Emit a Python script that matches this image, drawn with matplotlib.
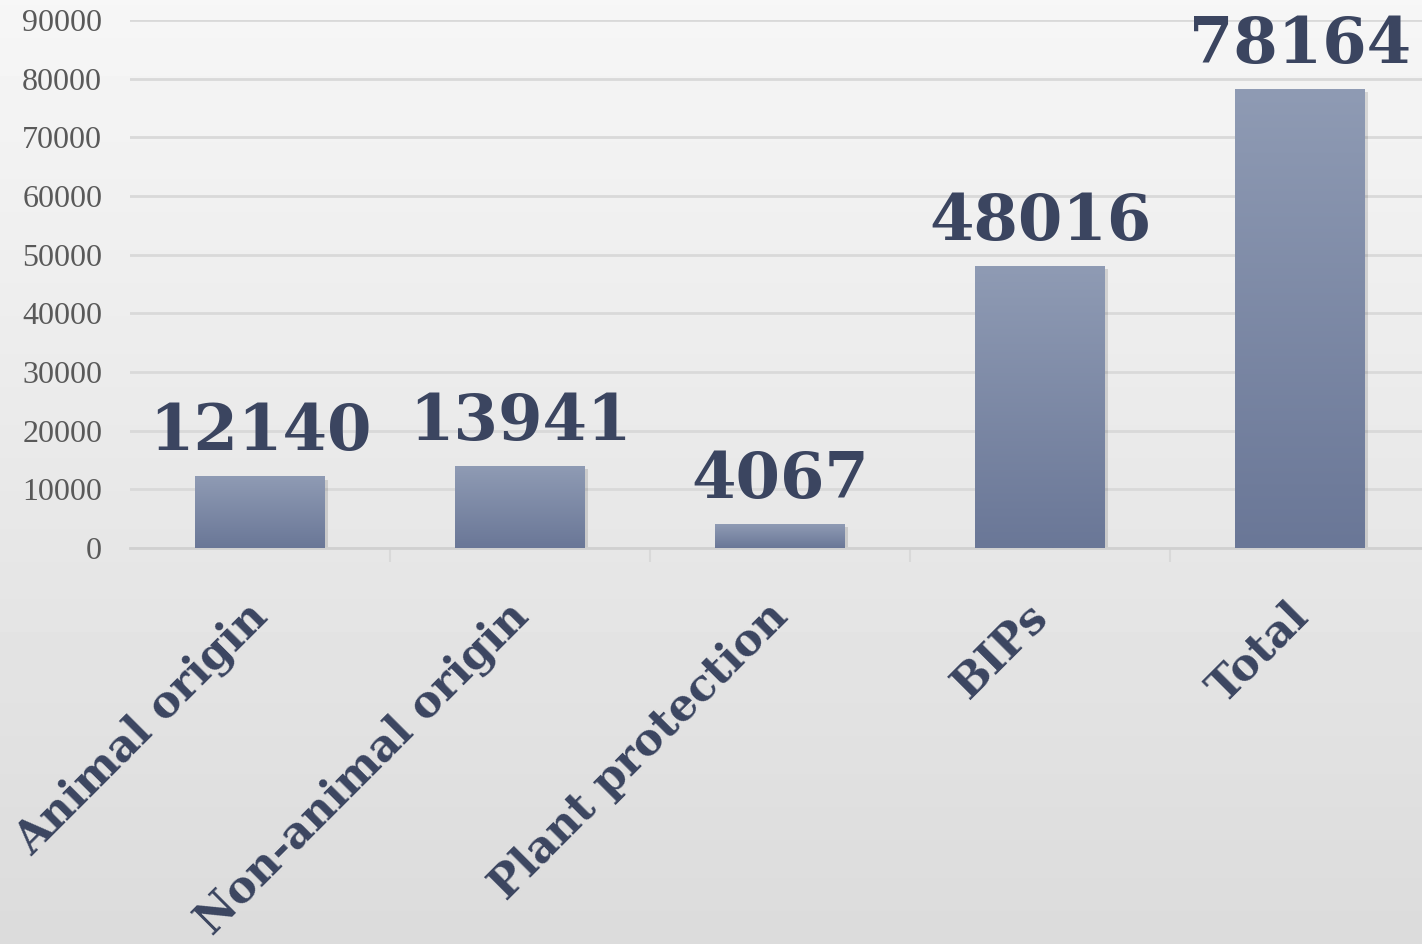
import matplotlib.pyplot as plt
import matplotlib.transforms as mtransforms
import numpy as np

categories = ["Animal origin", "Non-animal origin", "Plant protection", "BIPs", "Total"]
values = [12140, 13941, 4067, 48016, 78164]
yticks = [0, 10000, 20000, 30000, 40000, 50000, 60000, 70000, 80000, 90000]

navy = "#3b4560"
top_col = np.array([0x8f, 0x9b, 0xb4]) / 255
bot_col = np.array([0x6a, 0x77, 0x97]) / 255

fig = plt.figure(figsize=(14.22, 9.44), dpi=100)

# light gray background, a bit darker towards the bottom
bg = fig.add_axes([0, 0, 1, 1], zorder=-10)
g = np.linspace(0, 1, 200)[:, None]
bgimg = 0.965 - 0.105 * g
bg.imshow(np.repeat(bgimg, 2, axis=1), cmap="gray", vmin=0, vmax=1,
          aspect="auto", extent=[0, 1, 0, 1], origin="upper")
bg.axis("off")

ax = fig.add_axes([130 / 1422, 1 - 548 / 944, 1300 / 1422, (548 - 20) / 944])
ax.patch.set_alpha(0)

x = np.arange(len(categories))
width = 0.5
bars = ax.bar(x, values, width=width, color="none", zorder=3)

grad = np.linspace(0, 1, 256)[:, None, None]
cimg = top_col * (1 - grad) + bot_col * grad
for b in bars:
    x0, y0 = b.get_x(), b.get_y()
    w, h = b.get_width(), b.get_height()
    # soft shadow
    ax.add_patch(plt.Rectangle((x0 + 0.012, y0 - 500), w, h, color="#000000",
                               alpha=0.12, zorder=2, lw=0))
    ax.imshow(cimg, extent=[x0, x0 + w, y0, y0 + h], aspect="auto", zorder=3,
              origin="upper")

for xi, v in zip(x, values):
    ax.annotate(str(v), (xi, v), xytext=(0, 19), textcoords="offset points",
                ha="center", va="baseline", fontsize=46, fontweight="bold",
                family="DejaVu Serif", color=navy, zorder=5)

ax.set_xlim(-0.5, len(categories) - 0.5)
ax.set_ylim(0, 90000)
ax.set_yticks(yticks)
ax.set_yticklabels([str(t) for t in yticks], family="Liberation Serif",
                   fontsize=23, color="#595959")
ax.tick_params(axis="y", length=0, pad=20)
ax.yaxis.grid(True, color="#d9d9d9", linewidth=2, zorder=0)
ax.set_axisbelow(True)

ax.set_xticks(x)
ax.set_xticklabels(categories, rotation=45, ha="right", rotation_mode="anchor",
                   family="DejaVu Serif", fontweight="bold", fontsize=31.5, color=navy)
ax.tick_params(axis="x", length=0, pad=36)
shift = mtransforms.ScaledTranslation(-14 / 100, 4 / 100, fig.dpi_scale_trans)
for lab in ax.get_xticklabels():
    lab.set_transform(lab.get_transform() + shift)
ax.set_xticks(np.arange(0.5, len(categories) - 0.5), minor=True)
ax.tick_params(axis="x", which="minor", length=10, color="#d9d9d9", width=1.5)

for s in ["top", "right", "left"]:
    ax.spines[s].set_visible(False)
ax.spines["bottom"].set_color("#d0d0d0")
ax.spines["bottom"].set_linewidth(2)

fig.savefig("out.png", dpi=100)
